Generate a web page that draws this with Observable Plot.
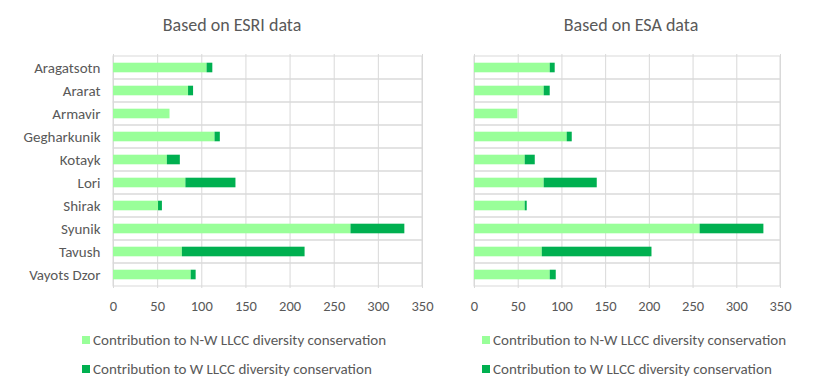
<!DOCTYPE html>
<html>
<head>
<meta charset="utf-8">
<script src="https://cdn.jsdelivr.net/npm/d3@7"></script>
<script src="https://cdn.jsdelivr.net/npm/@observablehq/plot@0.6"></script>
<style>
  html, body { margin: 0; padding: 0; background: #fff; }
  #wrap { position: relative; width: 822px; height: 387px; overflow: hidden; font-family: Carlito, Calibri, Lato, sans-serif; color: #595959; }
  .panel { position: absolute; top: 0; }
  .title { position: absolute; font-size: 18px; white-space: nowrap; transform: translate(-50%, -50%); }
  .leg { position: absolute; font-size: 15px; white-space: nowrap; transform: translateY(-50%); display: flex; align-items: center; }
  .sw { display: inline-block; width: 8px; height: 8px; margin-right: 3px; }
</style>
</head>
<body>
<div id="wrap"></div>
<script>
const regions = ["Aragatsotn", "Ararat", "Armavir", "Gegharkunik", "Kotayk", "Lori", "Shirak", "Syunik", "Tavush", "Vayots Dzor"];
const seriesNames = ["Contribution to N-W LLCC diversity conservation", "Contribution to W LLCC diversity conservation"];
const seriesColors = ["#99ff99", "#00b050"];
const xTicks = [0, 50, 100, 150, 200, 250, 300, 350];
const titles = ["Based on ESRI data", "Based on ESA data"];

// ESRI-based values
const esriNW = [106, 85, 64, 115, 61, 82, 51, 269, 78, 88];
const esriW  = [6.5, 5.7, 0, 6, 14.7, 56.7, 4.4, 61, 139, 5.6];
// ESA-based values
const esaNW = [86.6, 79.7, 49.6, 106, 58, 79.7, 58, 258, 77.5, 86.6];
const esaW  = [5.7, 6.9, 0, 5.8, 11.5, 60.7, 2.3, 73, 125.5, 6.9];

function rows(nw, w) {
  const out = [];
  regions.forEach((r, i) => {
    out.push({region: r, series: seriesNames[0], value: nw[i]});
    out.push({region: r, series: seriesNames[1], value: w[i]});
  });
  return out;
}

const FONT = 'Carlito, Calibri, Lato, sans-serif';

function makePanel(data, opts) {
  const bandH = (opts.height - opts.marginTop - opts.marginBottom) / regions.length;
  const inset = (bandH - 10) / 2;
  const xMax = xTicks[xTicks.length - 1];
  const marks = [
    Plot.gridX(xTicks, {stroke: "#d9d9d9", strokeOpacity: 1, strokeWidth: 1}),
    Plot.barX(regions, {y: d => d, x1: 0, x2: xMax, fill: "none", stroke: "#d9d9d9", strokeWidth: 1, insetTop: 0, insetBottom: 0}),
    Plot.barX(data, Plot.stackX({y: "region", x: "value", fill: "series", order: seriesNames, insetTop: inset, insetBottom: inset, insetLeft: 0, insetRight: 0})),
    Plot.axisX({ticks: xTicks, tickSize: 0, tickPadding: 12, fontSize: 14.5})
  ];
  if (opts.showY) marks.push(Plot.axisY({tickSize: 0, tickPadding: 13, fontSize: 15}));
  return Plot.plot({
    width: opts.width,
    height: opts.height,
    marginLeft: opts.marginLeft,
    marginRight: opts.marginRight,
    marginTop: opts.marginTop,
    marginBottom: opts.marginBottom,
    style: {fontFamily: FONT, fontSize: "14.5px", color: "#595959", background: "transparent", overflow: "visible"},
    x: {domain: [0, xMax], ticks: xTicks, tickSize: 0, label: null, axis: null},
    y: {domain: regions, padding: 0, label: null, axis: null},
    color: {domain: seriesNames, range: seriesColors},
    marks
  });
}

const wrap = document.getElementById("wrap");

const panels = [
  {data: rows(esriNW, esriW), left: 0, width: 440, marginLeft: 113, marginRight: 18, titleX: 232, legX: 82, showY: true},
  {data: rows(esaNW, esaW), left: 440, width: 382, marginLeft: 34, marginRight: 42, titleX: 631, legX: 482, showY: false}
];

panels.forEach((p, k) => {
  const svg = makePanel(p.data, {width: p.width, height: 320, marginLeft: p.marginLeft, marginRight: p.marginRight, marginTop: 54, marginBottom: 32, showY: p.showY});
  const holder = document.createElement("div");
  holder.className = "panel";
  holder.style.left = p.left + "px";
  holder.appendChild(svg);
  wrap.appendChild(holder);

  const t = document.createElement("div");
  t.className = "title";
  t.style.left = p.titleX + "px";
  t.style.top = "25px";
  t.textContent = titles[k];
  wrap.appendChild(t);

  seriesNames.forEach((name, j) => {
    const l = document.createElement("div");
    l.className = "leg";
    l.style.left = p.legX + "px";
    l.style.top = (j === 0 ? 340 : 369) + "px";
    const sw = document.createElement("span");
    sw.className = "sw";
    sw.style.background = seriesColors[j];
    l.appendChild(sw);
    l.appendChild(document.createTextNode(name));
    wrap.appendChild(l);
  });
});
</script>
</body>
</html>
